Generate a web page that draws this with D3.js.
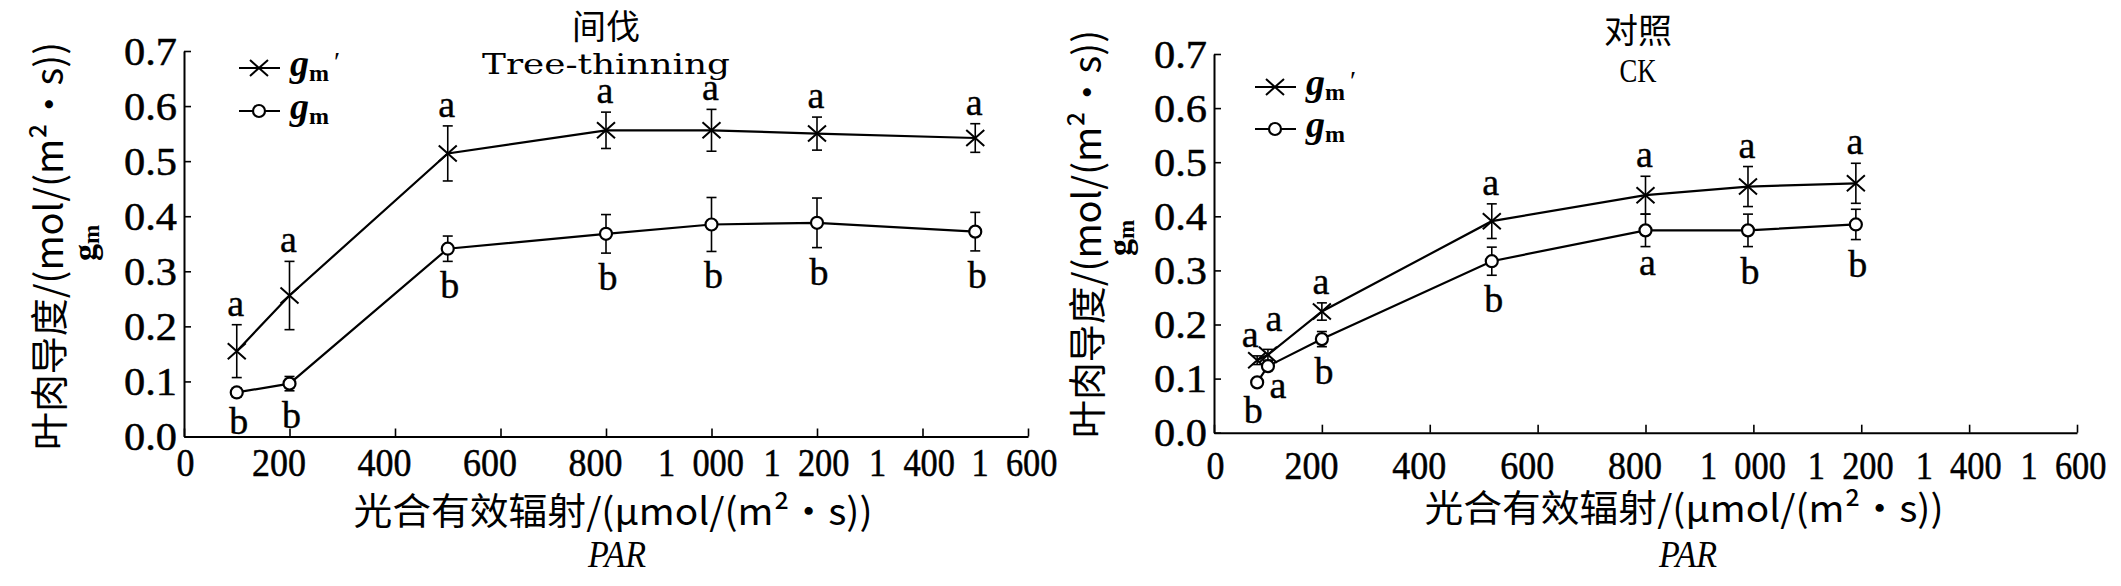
<!DOCTYPE html>
<html>
<head>
<meta charset="utf-8">
<script src="https://cdn.jsdelivr.net/npm/d3@7"></script>
<style>
  body { margin: 0; background: #fff; }
  svg { display: block; }
</style>
</head>
<body>
<script>
// axis ticks
var xTicks = [0, 200, 400, 600, 800, 1000, 1200, 1400, 1600];
var xTickLabels = ["0", "200", "400", "600", "800", "1\u2002000", "1\u2002200", "1\u2002400", "1\u2002600"];
var yTicks = [0, 0.1, 0.2, 0.3, 0.4, 0.5, 0.6, 0.7];
var yTickLabels = ["0.0", "0.1", "0.2", "0.3", "0.4", "0.5", "0.6", "0.7"];

// 间伐 Tree-thinning
var parThin = [100, 200, 500, 800, 1000, 1200, 1500];
var gmPrimeThin = [0.155, 0.256, 0.514, 0.556, 0.556, 0.550, 0.542];
var gmPrimeThinSe = [0.048, 0.062, 0.050, 0.033, 0.038, 0.030, 0.026];
var gmPrimeThinSig = ["a", "a", "a", "a", "a", "a", "a"];
var gmThin = [0.080, 0.096, 0.341, 0.368, 0.385, 0.388, 0.372];
var gmThinSe = [0.008, 0.013, 0.023, 0.035, 0.049, 0.045, 0.035];
var gmThinSig = ["b", "b", "b", "b", "b", "b", "b"];

// 对照 CK
var parCK = [80, 100, 200, 515, 800, 990, 1190];
var gmPrimeCK = [0.134, 0.144, 0.224, 0.391, 0.439, 0.455, 0.461];
var gmPrimeCKSe = [0.008, 0.010, 0.016, 0.032, 0.035, 0.037, 0.037];
var gmPrimeCKSig = ["a", "a", "a", "a", "a", "a", "a"];
var gmCK = [0.093, 0.123, 0.173, 0.317, 0.374, 0.374, 0.385];
var gmCKSe = [0.006, 0.008, 0.014, 0.026, 0.030, 0.030, 0.028];
var gmCKSig = ["b", "a", "b", "b", "a", "b", "b"];

var serif = "'Liberation Serif', 'Times New Roman', serif";
var cjk = "'Noto Sans CJK SC', sans-serif";

var svg = d3.select("body").append("svg")
  .attr("width", 2121)
  .attr("height", 586);

svg.append("rect").attr("width", 2121).attr("height", 586).attr("fill", "#fff");

function rows(par, v, se, sig) {
  return par.map(function (p, i) { return { par: p, v: v[i], se: se[i], sig: sig[i] }; });
}

function drawMarker(sel, type) {
  if (type === "x") {
    sel.append("path").attr("d", "M-9,-8L9,8M-9,8L9,-8")
      .attr("stroke", "#000").attr("stroke-width", 2).attr("fill", "none");
  } else {
    sel.append("circle").attr("r", 6)
      .attr("fill", "#fff").attr("stroke", "#000").attr("stroke-width", 2.2);
  }
}

function drawPanel(p) {
  var g = svg.append("g");
  var x = d3.scaleLinear().domain([0, 1600]).range([p.x0, p.x1]);
  var y = d3.scaleLinear().domain([0, 0.7]).range([p.y0, p.y1]);

  // x axis, ticks pointing inward
  var xa = g.append("g")
    .attr("transform", "translate(0," + p.y0 + ")")
    .call(d3.axisBottom(x).tickValues(xTicks)
      .tickFormat(function (d, i) { return xTickLabels[i]; })
      .tickSize(-8).tickSizeOuter(0));
  xa.select(".domain").attr("stroke-width", 2);
  xa.selectAll(".tick line").attr("stroke-width", 1.6);
  xa.selectAll(".tick text")
    .attr("y", p.xLabY).attr("dy", 0)
    .attr("dx", function (d, i) { return i === 0 ? 1 : (i === xTicks.length - 1 ? -14 : -11); })
    .attr("textLength", function (d, i) {
      var s = xTickLabels[i];
      return s.replace(/\D/g, "").length * 18 + (s.length > 3 ? 14 : 0);
    })
    .attr("lengthAdjust", "spacingAndGlyphs")
    .attr("stroke", "#000").attr("stroke-width", 0.5)
    .style("font-family", serif).style("font-size", "39px");

  var ya = g.append("g")
    .attr("transform", "translate(" + p.x0 + ",0)")
    .call(d3.axisLeft(y).tickValues(yTicks)
      .tickFormat(function (d, i) { return yTickLabels[i]; })
      .tickSize(-7).tickSizeOuter(0));
  ya.select(".domain").attr("stroke-width", 2);
  ya.selectAll(".tick line").attr("stroke-width", 1.6);
  ya.selectAll(".tick text")
    .attr("x", -7).attr("dy", 13)
    .attr("textLength", 53).attr("lengthAdjust", "spacingAndGlyphs")
    .attr("stroke", "#000").attr("stroke-width", 0.5)
    .style("font-family", serif).style("font-size", "40px");

  var line = d3.line().x(function (d) { return x(d.par); }).y(function (d) { return y(d.v); });

  p.series.forEach(function (s) {
    var sg = g.append("g");
    sg.append("path").datum(s.data)
      .attr("d", line).attr("fill", "none").attr("stroke", "#000").attr("stroke-width", 2.2);

    var eb = sg.selectAll(".eb").data(s.data).enter().append("g")
      .attr("stroke", "#000").attr("stroke-width", 1.6);
    eb.append("line")
      .attr("x1", function (d) { return x(d.par); }).attr("x2", function (d) { return x(d.par); })
      .attr("y1", function (d) { return y(d.v + d.se); }).attr("y2", function (d) { return y(d.v - d.se); });
    eb.append("line")
      .attr("x1", function (d) { return x(d.par) - 5; }).attr("x2", function (d) { return x(d.par) + 5; })
      .attr("y1", function (d) { return y(d.v + d.se); }).attr("y2", function (d) { return y(d.v + d.se); });
    eb.append("line")
      .attr("x1", function (d) { return x(d.par) - 5; }).attr("x2", function (d) { return x(d.par) + 5; })
      .attr("y1", function (d) { return y(d.v - d.se); }).attr("y2", function (d) { return y(d.v - d.se); });

    var mk = sg.selectAll(".mk").data(s.data).enter().append("g")
      .attr("transform", function (d) { return "translate(" + x(d.par) + "," + y(d.v) + ")"; });
    drawMarker(mk, s.marker);

    // significance letters, crowded neighbours pushed apart
    var prev = null;
    s.data.forEach(function (d) {
      var lx, ly;
      if (s.above) {
        lx = x(d.par) - 1;
        ly = y(d.v + d.se) - 9;
        if (prev && Math.abs(lx - prev.x) < 20 && Math.abs(ly - prev.y) < 17) {
          ly = prev.y - 16;
          lx += 7;
          prev.node.attr("x", prev.x - 6);
        }
      } else {
        lx = x(d.par) + 2;
        ly = y(d.v - d.se) + 11 + (d.sig === "b" ? 26 : 17);
        if (prev && Math.abs(lx - prev.x) < 20 && Math.abs(ly - prev.y) < 30) {
          lx += 8;
          prev.node.attr("x", prev.x - 6);
        }
      }
      var t = g.append("text")
        .attr("x", lx).attr("y", ly)
        .attr("text-anchor", "middle")
        .attr("stroke", "#000").attr("stroke-width", 0.4)
        .style("font-family", serif).style("font-size", "38px")
        .text(d.sig);
      prev = { x: lx, y: ly, node: t };
    });
  });

  // legend
  p.series.forEach(function (s, i) {
    var ly = p.legY + i * p.legGap;
    var lg = g.append("g");
    lg.append("line").attr("x1", p.legX).attr("x2", p.legX + 41)
      .attr("y1", ly).attr("y2", ly).attr("stroke", "#000").attr("stroke-width", 2.2);
    var m = lg.append("g").attr("transform", "translate(" + (p.legX + 20) + "," + ly + ")");
    drawMarker(m, s.marker);
    var t = lg.append("text").attr("x", p.legX + 51).attr("y", ly + 8)
      .style("font-family", serif).style("font-weight", "bold");
    t.append("tspan").style("font-style", "italic").style("font-size", "38px").text("g");
    t.append("tspan").attr("dy", 5).style("font-size", "24px").text("m");
    if (s.prime) t.append("tspan").attr("dy", -10).attr("dx", 5).style("font-size", "28px").style("font-weight", "normal").text("\u2032");
  });

  // titles
  g.append("text").attr("x", p.cx).attr("y", p.titleY)
    .attr("text-anchor", "middle").style("font-family", cjk).style("font-size", "34px")
    .text(p.title);
  g.append("text").attr("x", p.cx).attr("y", p.subY)
    .attr("text-anchor", "middle").style("font-family", p.subFont).style("font-size", p.subSize)
    .attr("textLength", p.subLen).attr("lengthAdjust", "spacingAndGlyphs")
    .text(p.sub);

  // y axis title
  g.append("text")
    .attr("transform", "translate(" + p.yTitleX + "," + p.yTitleCY + ") rotate(-90)")
    .attr("text-anchor", "middle")
    .attr("textLength", 408).attr("lengthAdjust", "spacingAndGlyphs")
    .style("font-family", cjk).style("font-size", "38px")
    .text("叶肉导度/(mol/(m²•s))");
  var gm = g.append("text")
    .attr("transform", "translate(" + p.gmX + "," + p.gmCY + ") rotate(-90)")
    .attr("text-anchor", "middle")
    .style("font-family", serif).style("font-weight", "bold");
  gm.append("tspan").style("font-size", "34px").text("g");
  gm.append("tspan").attr("dy", 3).style("font-size", "23px").text("m");

  // x axis title
  g.append("text").attr("x", p.xTitleCX).attr("y", p.xTitleY)
    .attr("text-anchor", "middle")
    .attr("textLength", 519).attr("lengthAdjust", "spacingAndGlyphs")
    .style("font-family", cjk).style("font-size", "37px")
    .text("光合有效辐射/(μmol/(m²•s))");
  g.append("text").attr("x", p.xTitleCX + 4).attr("y", 567)
    .attr("text-anchor", "middle")
    .attr("textLength", 58).attr("lengthAdjust", "spacingAndGlyphs")
    .style("font-family", serif).style("font-size", "37px").style("font-style", "italic")
    .text("PAR");
}

drawPanel({
  x0: 184, x1: 1028, y0: 436.5, y1: 51, xLabY: 39,
  series: [
    { data: rows(parThin, gmPrimeThin, gmPrimeThinSe, gmPrimeThinSig), marker: "x", above: true, prime: true },
    { data: rows(parThin, gmThin, gmThinSe, gmThinSig), marker: "o", above: false }
  ],
  legX: 239, legY: 68, legGap: 43,
  cx: 606, title: "间伐", titleY: 39, sub: "Tree-thinning", subY: 74,
  subFont: "'DejaVu Serif', serif", subSize: "28px", subLen: 248,
  yTitleX: 63, yTitleCY: 246, gmX: 96, gmCY: 243,
  xTitleCX: 613, xTitleY: 525
});

drawPanel({
  x0: 1214, x1: 2077, y0: 432.7, y1: 54, xLabY: 46,
  series: [
    { data: rows(parCK, gmPrimeCK, gmPrimeCKSe, gmPrimeCKSig), marker: "x", above: true, prime: true },
    { data: rows(parCK, gmCK, gmCKSe, gmCKSig), marker: "o", above: false }
  ],
  legX: 1255, legY: 87, legGap: 42,
  cx: 1638, title: "对照", titleY: 43, sub: "CK", subY: 82,
  subFont: serif, subSize: "33px", subLen: 37,
  yTitleX: 1101, yTitleCY: 234, gmX: 1131, gmCY: 238,
  xTitleCX: 1684, xTitleY: 522
});
</script>
</body>
</html>
